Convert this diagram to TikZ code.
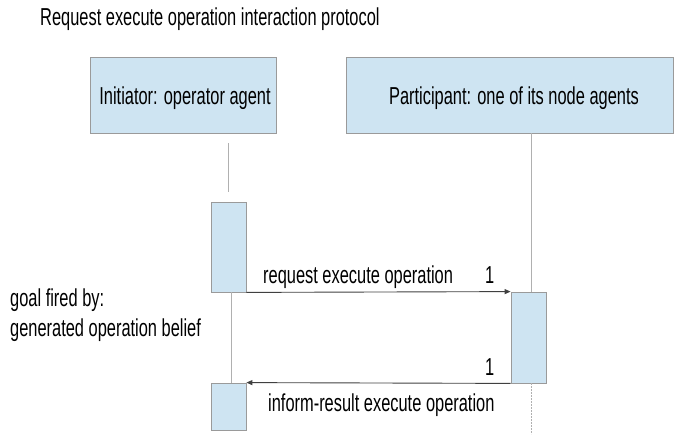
\documentclass[tikz,border=0pt]{standalone}
\usepackage{fontspec}
\setmainfont[FakeStretch=0.67]{Liberation Sans}
\usetikzlibrary{arrows.meta}
\definecolor{boxfill}{HTML}{CEE4F2}
\definecolor{boxline}{HTML}{9A9A9A}
\definecolor{lifegray}{HTML}{B0B0B0}
\tikzset{
  lbl/.style={font=\fontsize{24.5}{28}\selectfont, inner sep=0pt},
  head/.style={draw=boxline, fill=boxfill, line width=0.8pt, inner sep=0pt},
  act/.style={draw=boxline, fill=boxfill, line width=0.8pt, inner sep=0pt, minimum width=35pt},
  life/.style={draw=lifegray, line width=0.6pt},
  msg/.style={draw=black!75, line width=0.9pt, -{Triangle[length=6pt,width=5pt]}}
}
\begin{document}
\begin{tikzpicture}[x=1pt,y=-1pt]
\useasboundingbox (0,0) rectangle (674,434);
\node[lbl, anchor=base west] (title) at (40,25) {Request execute operation interaction protocol};
% heads
\node[head, minimum width=186pt, minimum height=76pt] (ini) at (183,95) {};
\node[lbl, anchor=base] (initxt) at (185,104) {Initiator: operator agent};
\node[head, minimum width=327pt, minimum height=76pt] (par) at (509.5,95) {};
\node[lbl, anchor=base] (partxt) at (514,104) {Participant: one of its node agents};
% activations
\node[act, minimum height=90pt] (a1) at (228.5,247) {};
\node[act, minimum height=91pt] (a2) at (528.5,337.5) {};
\node[act, minimum height=47pt] (a3) at (228.5,406.5) {};
% lifelines
\coordinate (l1top) at (228,143);
\coordinate (l1mid) at (228,192);
\draw[life] (l1top) -- (l1mid);
\coordinate (l1b) at (231,292);
\coordinate (l1c) at (231,383);
\draw[life, line width=0.5pt] (l1b) -- (l1c);
\coordinate (l2top) at (531,133);
\coordinate (l2a) at (531,292);
\draw[life] (l2top) -- (l2a);
\coordinate (l2b) at (531,383);
\coordinate (l2end) at (531,434);
\draw[life, dash pattern=on 2pt off 1pt] (l2b) -- (l2end);
% messages
\draw[msg] (a1.south east) -- (a2.north west);
\draw[msg] (a2.south west) -- (a3.north east);
% labels
\node[lbl, anchor=base west] (m1) at (263,283) {request execute operation};
\node[lbl, anchor=base west] (n1) at (485,283) {1};
\node[lbl, anchor=base west] (n2) at (485,375) {1};
\node[lbl, anchor=base west] (m2) at (268,411) {inform-result execute operation};
\node[lbl, anchor=base west] (g1) at (10,306) {goal fired by:};
\node[lbl, anchor=base west] (g2) at (10,336) {generated operation belief};
\end{tikzpicture}
\end{document}
